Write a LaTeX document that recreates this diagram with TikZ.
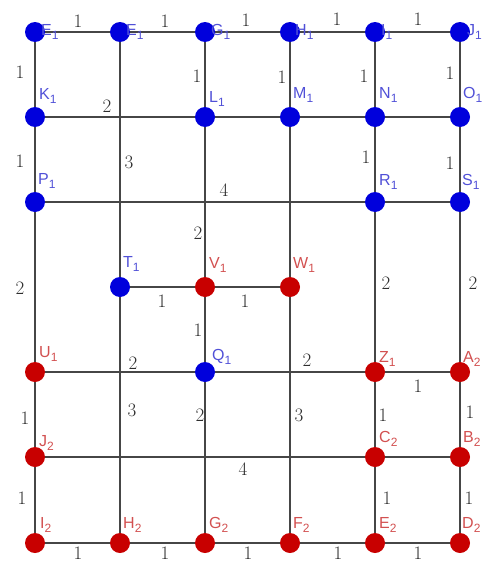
\documentclass[tikz,border=0pt]{standalone}
\usepackage{fontspec}
\newfontfamily\lblfont{Liberation Sans}
\definecolor{nblue}{RGB}{0,0,220}
\definecolor{nred}{RGB}{200,0,0}
\definecolor{lblue}{RGB}{80,80,215}
\definecolor{lred}{RGB}{210,80,80}
\definecolor{egray}{RGB}{70,70,70}
\definecolor{wgray}{RGB}{45,45,45}
\pgfdeclarelayer{bg}
\pgfsetlayers{bg,main}
\newcommand{\sbs}[1]{\raisebox{-4.5pt}{\fontsize{12}{12}\selectfont #1}}
\tikzset{
  bn/.style={circle,fill=nblue,inner sep=0pt,minimum size=20pt},
  rn/.style={circle,fill=nred,inner sep=0pt,minimum size=20pt},
  edge/.style={draw=egray,line width=2.5pt},
  wt/.style={text=wgray,inner sep=0pt,font=\fontsize{19}{19}\selectfont},
  lb/.style={anchor=base west,inner sep=0pt,font=\lblfont\fontsize{16}{16}\selectfont,text=lblue},
  lr/.style={anchor=base west,inner sep=0pt,font=\lblfont\fontsize{16}{16}\selectfont,text=lred},
}
\begin{document}
\begin{tikzpicture}[x=1pt,y=-1pt]
\useasboundingbox (0,0) rectangle (491,562);
% nodes
\node[bn] (E1) at (35,32) {};
\node[bn] (F1) at (120,32) {};
\node[bn] (G1) at (205,32) {};
\node[bn] (H1) at (290,32) {};
\node[bn] (I1) at (375,32) {};
\node[bn] (J1) at (460,32) {};
\node[bn] (K1) at (35,117) {};
\node[bn] (L1) at (205,117) {};
\node[bn] (M1) at (290,117) {};
\node[bn] (N1) at (375,117) {};
\node[bn] (O1) at (460,117) {};
\node[bn] (P1) at (35,202) {};
\node[bn] (R1) at (375,202) {};
\node[bn] (S1) at (460,202) {};
\node[bn] (T1) at (120,287) {};
\node[rn] (V1) at (205,287) {};
\node[rn] (W1) at (290,287) {};
\node[rn] (U1) at (35,372) {};
\node[bn] (Q1) at (205,372) {};
\node[rn] (Z1) at (375,372) {};
\node[rn] (A2) at (460,372) {};
\node[rn] (J2) at (35,457) {};
\node[rn] (C2) at (375,457) {};
\node[rn] (B2) at (460,457) {};
\node[rn] (I2) at (35,543) {};
\node[rn] (H2) at (120,543) {};
\node[rn] (G2) at (205,543) {};
\node[rn] (F2) at (290,543) {};
\node[rn] (E2) at (375,543) {};
\node[rn] (D2) at (460,543) {};
% edges
\begin{pgfonlayer}{bg}
\draw[edge] (E1) -- (F1);
\draw[edge] (F1) -- (G1);
\draw[edge] (G1) -- (H1);
\draw[edge] (H1) -- (I1);
\draw[edge] (I1) -- (J1);
\draw[edge] (E1) -- (K1);
\draw[edge] (G1) -- (L1);
\draw[edge] (H1) -- (M1);
\draw[edge] (I1) -- (N1);
\draw[edge] (J1) -- (O1);
\draw[edge] (F1) -- (T1);
\draw[edge] (K1) -- (L1);
\draw[edge] (L1) -- (M1);
\draw[edge] (M1) -- (N1);
\draw[edge] (N1) -- (O1);
\draw[edge] (K1) -- (P1);
\draw[edge] (L1) -- (V1);
\draw[edge] (M1) -- (W1);
\draw[edge] (N1) -- (R1);
\draw[edge] (O1) -- (S1);
\draw[edge] (P1) -- (R1);
\draw[edge] (R1) -- (S1);
\draw[edge] (P1) -- (U1);
\draw[edge] (R1) -- (Z1);
\draw[edge] (S1) -- (A2);
\draw[edge] (T1) -- (V1);
\draw[edge] (V1) -- (W1);
\draw[edge] (V1) -- (Q1);
\draw[edge] (W1) -- (F2);
\draw[edge] (T1) -- (H2);
\draw[edge] (U1) -- (Q1);
\draw[edge] (Q1) -- (Z1);
\draw[edge] (Z1) -- (A2);
\draw[edge] (Q1) -- (G2);
\draw[edge] (U1) -- (J2);
\draw[edge] (Z1) -- (C2);
\draw[edge] (A2) -- (B2);
\draw[edge] (J2) -- (C2);
\draw[edge] (C2) -- (B2);
\draw[edge] (J2) -- (I2);
\draw[edge] (C2) -- (E2);
\draw[edge] (B2) -- (D2);
\draw[edge] (I2) -- (H2);
\draw[edge] (H2) -- (G2);
\draw[edge] (G2) -- (F2);
\draw[edge] (F2) -- (E2);
\draw[edge] (E2) -- (D2);
\end{pgfonlayer}
% node labels
\node[lb] (E1l) at (41,35) {E\sbs{1}};
\node[lb] (F1l) at (126,35) {E\sbs{1}};
\node[lb] (G1l) at (211,35) {G\sbs{1}};
\node[lb] (H1l) at (295,35) {H\sbs{1}};
\node[lb] (I1l) at (381,35) {I\sbs{1}};
\node[lb] (J1l) at (467,35) {J\sbs{1}};
\node[lb] (K1l) at (39,99) {K\sbs{1}};
\node[lb] (L1l) at (209,102) {L\sbs{1}};
\node[lb] (M1l) at (293,98) {M\sbs{1}};
\node[lb] (N1l) at (379,98) {N\sbs{1}};
\node[lb] (O1l) at (463,98) {O\sbs{1}};
\node[lb] (P1l) at (38,184) {P\sbs{1}};
\node[lb] (R1l) at (379,185) {R\sbs{1}};
\node[lb] (S1l) at (462,185) {S\sbs{1}};
\node[lb] (T1l) at (123,267) {T\sbs{1}};
\node[lr] (V1l) at (209,268) {V\sbs{1}};
\node[lr] (W1l) at (293,268) {W\sbs{1}};
\node[lr] (U1l) at (39,357) {U\sbs{1}};
\node[lb] (Q1l) at (212,360) {Q\sbs{1}};
\node[lr] (Z1l) at (379,362) {Z\sbs{1}};
\node[lr] (A2l) at (463,362) {A\sbs{2}};
\node[lr] (J2l) at (39,446) {J\sbs{2}};
\node[lr] (C2l) at (379,442) {C\sbs{2}};
\node[lr] (B2l) at (463,442) {B\sbs{2}};
\node[lr] (I2l) at (40,528) {I\sbs{2}};
\node[lr] (H2l) at (123,528) {H\sbs{2}};
\node[lr] (G2l) at (209,528) {G\sbs{2}};
\node[lr] (F2l) at (293,528) {F\sbs{2}};
\node[lr] (E2l) at (379,528) {E\sbs{2}};
\node[lr] (D2l) at (462,528) {D\sbs{2}};
% weights
\node[wt] (w1) at (78,21) {1};
\node[wt] (w2) at (165,21) {1};
\node[wt] (w3) at (246,20) {1};
\node[wt] (w4) at (337,19) {1};
\node[wt] (w5) at (418,19) {1};
\node[wt] (w6) at (20,72) {1};
\node[wt] (w7) at (197,76) {1};
\node[wt] (w8) at (282,77) {1};
\node[wt] (w9) at (364,76) {1};
\node[wt] (w10) at (450,73) {1};
\node[wt] (w11) at (107,106) {2};
\node[wt] (w12) at (129,162) {3};
\node[wt] (w13) at (20,161) {1};
\node[wt] (w14) at (224,190) {4};
\node[wt] (w15) at (198,233) {2};
\node[wt] (w16) at (366,157) {1};
\node[wt] (w17) at (450,163) {1};
\node[wt] (w18) at (20,288) {2};
\node[wt] (w19) at (386,283) {2};
\node[wt] (w20) at (473,283) {2};
\node[wt] (w21) at (162,301) {1};
\node[wt] (w22) at (245,301) {1};
\node[wt] (w23) at (198,330) {1};
\node[wt] (w24) at (133,363) {2};
\node[wt] (w25) at (307,360) {2};
\node[wt] (w26) at (418,386) {1};
\node[wt] (w27) at (132,410) {3};
\node[wt] (w28) at (200,415) {2};
\node[wt] (w29) at (299,415) {3};
\node[wt] (w30) at (25,418) {1};
\node[wt] (w31) at (383,415) {1};
\node[wt] (w32) at (470,412) {1};
\node[wt] (w33) at (243,469) {4};
\node[wt] (w34) at (22,498) {1};
\node[wt] (w35) at (387,498) {1};
\node[wt] (w36) at (469,498) {1};
\node[wt] (w37) at (78,553) {1};
\node[wt] (w38) at (165,553) {1};
\node[wt] (w39) at (248,553) {1};
\node[wt] (w40) at (338,553) {1};
\node[wt] (w41) at (418,553) {1};
\end{tikzpicture}
\end{document}
